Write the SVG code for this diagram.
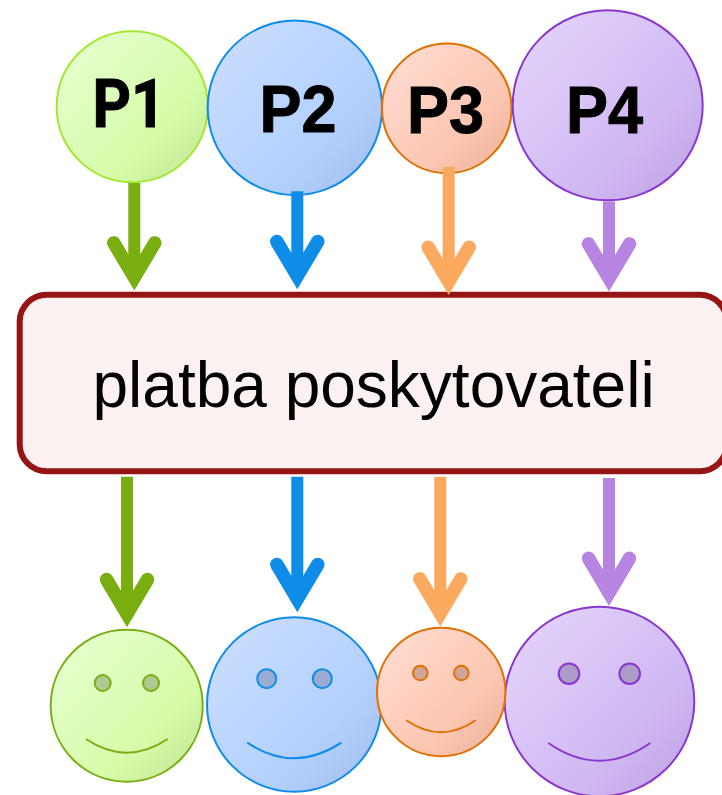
<svg xmlns="http://www.w3.org/2000/svg" width="722" height="795" viewBox="0 0 722 795">
<style>
text{font-family:"Liberation Sans",Arial,sans-serif;font-size:64px;fill:#000}
.lbl{font-size:66px;font-weight:700;stroke:#000;stroke-width:1;stroke-linejoin:miter}
.r{font-family:Roboto,"Liberation Sans",sans-serif}
.n{stroke-width:2}
.s,.h{fill:none}
.s{stroke-width:12;stroke-linecap:butt}
.h{stroke-width:13.5;stroke-linecap:round;stroke-linejoin:miter;stroke-miterlimit:10}
.smile{fill:none;stroke-width:2}
.eye{stroke-width:2}
.c1{stroke:#79ae11}.c2{stroke:#0e8ce8}.c3{stroke:#faa95f}.c4{stroke:#b884e2}
.e1{fill:#aeca90;stroke:#79ae11}.e2{fill:#99abd0;stroke:#0e8ce8}.e3{fill:#cfa596;stroke:#e07000}.e4{fill:#ad9bc8;stroke:#8a37cf}
</style>
<defs>
<linearGradient id="g1" x1="0.1" y1="0.15" x2="0.9" y2="0.9"><stop offset="0" stop-color="#e4ffcc"/><stop offset="0.7" stop-color="#d5fca9"/><stop offset="1" stop-color="#c5ea9a"/></linearGradient>
<linearGradient id="g2" x1="0.1" y1="0.15" x2="0.9" y2="0.9"><stop offset="0" stop-color="#c9dcff"/><stop offset="0.7" stop-color="#b2d0fd"/><stop offset="1" stop-color="#a6c1f2"/></linearGradient>
<linearGradient id="g3" x1="0.1" y1="0.15" x2="0.9" y2="0.9"><stop offset="0" stop-color="#ffdacf"/><stop offset="0.7" stop-color="#fcc5b0"/><stop offset="1" stop-color="#efb7a2"/></linearGradient>
<linearGradient id="g4" x1="0.1" y1="0.15" x2="0.9" y2="0.9"><stop offset="0" stop-color="#e1d1fa"/><stop offset="0.7" stop-color="#d0b8f3"/><stop offset="1" stop-color="#c2a8e4"/></linearGradient>
</defs>
<g id="p1"><circle class="n" cx="132.2" cy="106.7" r="75.5" fill="url(#g1)" stroke="#a3e82e"/><text class="lbl r" x="92.5" y="127" textLength="73" lengthAdjust="spacingAndGlyphs">P1</text></g>
<g id="p2"><circle class="n" cx="294.9" cy="107.8" r="87.2" fill="url(#g2)" stroke="#0e8ce8"/><text class="lbl" x="259.5" y="132.2" textLength="77" lengthAdjust="spacingAndGlyphs">P2</text></g>
<g id="p3"><circle class="n" cx="446.8" cy="108.3" r="64.8" fill="url(#g3)" stroke="#e07000"/><text class="lbl" x="407" y="132.5" textLength="77" lengthAdjust="spacingAndGlyphs">P3</text></g>
<g id="p4"><circle class="n" cx="607.7" cy="105.3" r="95" fill="url(#g4)" stroke="#8a37cf"/><text class="lbl" x="566" y="132.5" textLength="77" lengthAdjust="spacingAndGlyphs">P4</text></g>
<g id="platba"><rect x="19.7" y="294.7" width="707" height="176.6" rx="27" fill="#fbf1f0" stroke="#951515" stroke-width="6"/><text x="92.5" y="406.7">platba poskytovateli</text></g>
<g id="f1"><circle class="n" cx="126.7" cy="705.7" r="76" fill="url(#g1)" stroke="#79ae11"/><circle class="eye e1" cx="102.7" cy="683" r="8"/><circle class="eye e1" cx="151" cy="683" r="8"/><path class="smile c1" d="M86 739Q126.7 766.4 167.7 739"/></g>
<g id="f2"><circle class="n" cx="294.2" cy="704.5" r="87.2" fill="url(#g2)" stroke="#0e8ce8"/><circle class="eye e2" cx="266.7" cy="678.7" r="9.5"/><circle class="eye e2" cx="322.3" cy="678.7" r="9.5"/><path class="smile c2" d="M247.3 742.7Q294.3 773.9 341.3 742.7"/></g>
<g id="f4"><circle class="n" cx="599.5" cy="701.5" r="94.8" fill="url(#g4)" stroke="#8a37cf"/><circle class="eye e4" cx="569" cy="673.7" r="10.3"/><circle class="eye e4" cx="629.7" cy="673.7" r="10.3"/><path class="smile" stroke="#8a37cf" d="M548.3 743Q599.3 778.4 650.3 743"/></g>
<g id="f3"><circle class="n" cx="441.2" cy="692" r="64.2" fill="url(#g3)" stroke="#e07000"/><circle class="eye e3" cx="420.3" cy="673" r="7.3"/><circle class="eye e3" cx="461.3" cy="673" r="7.3"/><path class="smile" stroke="#e07000" d="M406.3 720.3Q441 744.3 475.7 720.3"/></g>
<g id="connectors">
<g class="c1"><path class="s" d="M134.3 183V277"/><path class="h" d="M113.8 242.9L134.3 277.4L154.8 242.9"/></g>
<g class="c2"><path class="s" d="M297.3 191.3V276"/><path class="h" d="M276.8 241.5L297.3 276L317.8 241.5"/></g>
<g class="c3"><path class="s" d="M448.7 166.7V281"/><path class="h" d="M428.2 247.2L448.7 281.7L469.2 247.2"/></g>
<g class="c4"><path class="s" d="M609 201.3V278"/><path class="h" d="M588.5 243.9L609 278.4L629.5 243.9"/></g>
<g class="c1"><path class="s" d="M127 476.7V614"/><path class="h" d="M106.5 579.5L127 614L147.5 579.5"/></g>
<g class="c2"><path class="s" d="M297.3 476.7V599"/><path class="h" d="M276.8 564.5L297.3 599L317.8 564.5"/></g>
<g class="c3"><path class="s" d="M440.3 476.7V613"/><path class="h" d="M419.8 578.9L440.3 613.4L460.8 578.9"/></g>
<g class="c4"><path class="s" d="M609 478V592.5"/><path class="h" d="M588.5 558.2L609 592.7L629.5 558.2"/></g>
</g>
</svg>
